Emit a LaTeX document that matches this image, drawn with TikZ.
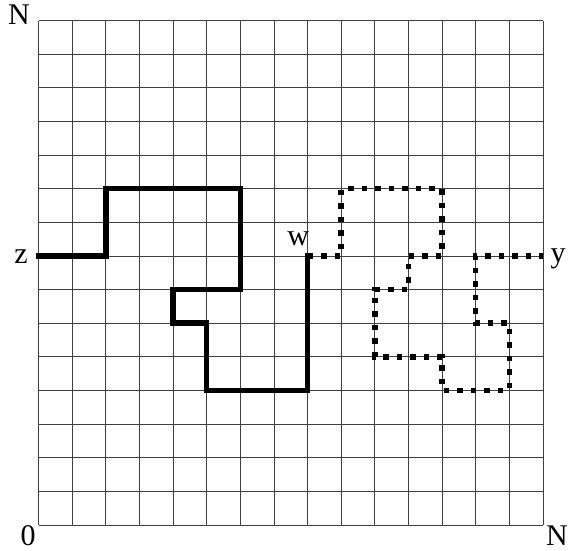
\documentclass[tikz,border=0pt]{standalone}
\usepackage{fontspec}
\setmainfont{Liberation Serif}
\begin{document}
\begin{tikzpicture}[x=33.63pt,y=33.63pt,
  gridline/.style={line width=0.8pt,black!75},
  solidpath/.style={line width=5.5pt,line join=miter,line cap=rect},
  dotpath/.style={line width=5.5pt,dash pattern=on 5.5pt off 8pt,line join=miter},
  lbl/.style={font=\fontsize{30}{36}\selectfont,inner sep=0pt,anchor=base}]
\useasboundingbox (-1.145,-0.773) rectangle (15.745,15.611);
\draw[gridline,step={(1,1)}] (0,0) grid (15,15);
\coordinate (z) at (0,8);
\coordinate (w) at (8,8);
\coordinate (y) at (15,8);
\draw[solidpath] (z) -- (2,8) -- (2,10) -- (6,10) -- (6,7) -- (4,7) -- (4,6) -- (5,6) -- (5,4) -- (8,4) -- (w);
\draw[dotpath] (w) -- (9,8) -- (9,10) -- (12,10) -- (12,8) -- (11,8) -- (11,7) -- (10,7) -- (10,5) -- (12,5) -- (12,4) -- (14,4) -- (14,6) -- (13,6) -- (13,8) -- (y);
\node[lbl] (ntop) at (-0.58,14.87) {N};
\node[lbl] (zero) at (-0.31,-0.62) {0};
\node[lbl] (nbr) at (15.42,-0.62) {N};
\node[lbl] (zl) at (-0.52,7.79) {z};
\node[lbl] (wl) at (7.72,8.32) {w};
\node[lbl] (yl) at (15.45,7.82) {y};
\end{tikzpicture}
\end{document}
